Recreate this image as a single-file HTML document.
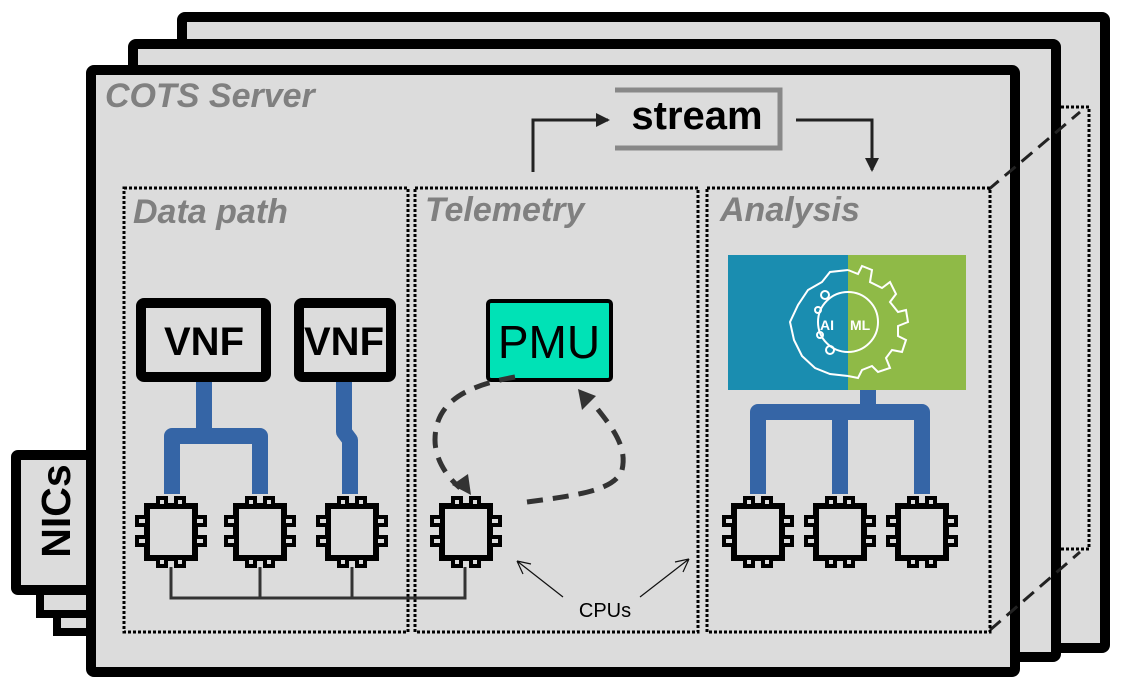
<!DOCTYPE html>
<html><head><meta charset="utf-8"><style>
html,body{margin:0;padding:0;background:#fff;}
svg{display:block;}
text{font-family:"Liberation Sans",sans-serif;}
</style></head><body>
<svg width="1122" height="689" viewBox="0 0 1122 689" xmlns="http://www.w3.org/2000/svg">
<defs>
<marker id="ah" markerWidth="14" markerHeight="14" refX="12" refY="7" orient="auto" markerUnits="userSpaceOnUse"><path d="M0,0 L14,7 L0,14 z" fill="#222"/></marker>
<g id="cpu">
 <rect x="-24" y="-26" width="48" height="52" fill="#dcdcdc" stroke="#000" stroke-width="6"/>
 <rect x="-13" y="-34" width="8" height="8" fill="#dcdcdc" stroke="#000" stroke-width="4"/>
 <rect x="5" y="-34" width="8" height="8" fill="#dcdcdc" stroke="#000" stroke-width="4"/>
 <rect x="-13" y="26" width="8" height="8" fill="#dcdcdc" stroke="#000" stroke-width="4"/>
 <rect x="5" y="26" width="8" height="8" fill="#dcdcdc" stroke="#000" stroke-width="4"/>
 <rect x="-34" y="-15" width="10" height="8" fill="#dcdcdc" stroke="#000" stroke-width="4"/>
 <rect x="-34" y="5" width="10" height="8" fill="#dcdcdc" stroke="#000" stroke-width="4"/>
 <rect x="24" y="-15" width="10" height="8" fill="#dcdcdc" stroke="#000" stroke-width="4"/>
 <rect x="24" y="5" width="10" height="8" fill="#dcdcdc" stroke="#000" stroke-width="4"/>
</g>
</defs>
<!-- back frame -->
<rect x="182" y="17" width="923" height="631" rx="3" fill="#dcdcdc" stroke="#000" stroke-width="10"/>
<rect x="1056" y="107" width="33" height="442" fill="none" stroke="#000" stroke-width="3" stroke-dasharray="3,2"/>
<!-- middle frame -->
<rect x="133" y="44" width="923" height="613" rx="3" fill="#dcdcdc" stroke="#000" stroke-width="10"/>
<!-- NICs tabs -->
<rect x="57" y="600" width="40" height="32" fill="#dcdcdc" stroke="#000" stroke-width="8"/>
<rect x="40" y="580" width="57" height="34" fill="#dcdcdc" stroke="#000" stroke-width="8"/>
<rect x="16" y="455" width="81" height="135" rx="2" fill="#dcdcdc" stroke="#000" stroke-width="10"/>
<text transform="translate(70,511) rotate(-90)" text-anchor="middle" font-size="41" font-weight="bold" fill="#000">NICs</text>
<!-- front frame -->
<rect x="91" y="70" width="924" height="602" rx="3" fill="#dcdcdc" stroke="#000" stroke-width="10"/>
<text x="105" y="107" font-size="34" font-weight="bold" font-style="italic" fill="#808080">COTS Server</text>
<!-- dashed perspective lines -->
<line x1="988" y1="190" x2="1080" y2="112" stroke="#222" stroke-width="3" stroke-dasharray="14,8"/>
<line x1="990" y1="630" x2="1080" y2="552" stroke="#222" stroke-width="3" stroke-dasharray="14,8"/>
<!-- sections -->
<g fill="none" stroke="#000" stroke-width="3" stroke-dasharray="3,2">
<rect x="124" y="188" width="284" height="444"/>
<rect x="415" y="188" width="283" height="444"/>
<rect x="707" y="188" width="283" height="444"/>
</g>
<g font-size="34" font-weight="bold" font-style="italic" fill="#808080">
<text x="133" y="223">Data path</text>
<text x="425" y="221">Telemetry</text>
<text x="720" y="221">Analysis</text>
</g>
<!-- stream -->
<path d="M615,90 H780 V148 H615" fill="none" stroke="#888" stroke-width="5"/>
<text x="697" y="129" text-anchor="middle" font-size="40" font-weight="bold" fill="#000">stream</text>
<path d="M533,172 V120 H608" fill="none" stroke="#222" stroke-width="3" marker-end="url(#ah)"/>
<path d="M796,120 H872 V170" fill="none" stroke="#222" stroke-width="3" marker-end="url(#ah)"/>
<!-- VNFs -->
<rect x="141" y="303" width="125" height="74" rx="3" fill="#dcdcdc" stroke="#000" stroke-width="10"/>
<text x="204" y="355" text-anchor="middle" font-size="40" font-weight="bold">VNF</text>
<rect x="299" y="303" width="92" height="74" rx="3" fill="#dcdcdc" stroke="#000" stroke-width="10"/>
<text x="344" y="355" text-anchor="middle" font-size="40" font-weight="bold">VNF</text>
<!-- blue lines -->
<g fill="none" stroke="#3565a6" stroke-width="16" stroke-linejoin="round">
<path d="M204,382 V436 M172,494 V436 H260 V494"/>
<path d="M344,382 V432 L350,440 V494"/>
<path d="M868,390 V412 M758,494 V412 H922 V494 M840,412 V494"/>
</g>
<!-- PMU -->
<rect x="488" y="301" width="123" height="79" rx="3" fill="#00e2b6" stroke="#000" stroke-width="4"/>
<text x="549" y="358" text-anchor="middle" font-size="46" fill="#000">PMU</text>
<!-- AI/ML -->
<rect x="728" y="255" width="120" height="135" fill="#1a8db0"/>
<rect x="848" y="255" width="118" height="135" fill="#8fba47"/>
<g fill="none" stroke="#fff" stroke-width="2">
<path d="M848,270 L830,272 L822,282 L808,290 L798,305 L790,322 L794,340 L802,356 L815,368 L830,374 L848,376"/>
<path d="M848,270 L858,274 L862,266 L872,270 L870,282 L882,288 L890,282 L896,294 L890,302 L898,312 L906,310 L908,322 L898,326 L898,336 L906,340 L902,352 L892,350 L886,358 L890,368 L878,372 L872,366 L862,370 L858,378 L848,376"/>
<circle cx="848" cy="322" r="30"/>
<circle cx="818" cy="310" r="3"/><circle cx="825" cy="295" r="4"/><circle cx="820" cy="335" r="3"/><circle cx="830" cy="350" r="4"/>
</g>
<text x="820" y="330" font-size="14" font-weight="bold" fill="#fff">AI</text>
<text x="850" y="330" font-size="14" font-weight="bold" fill="#fff">ML</text>
<!-- CPU bus -->
<path d="M171,567 V598 H465 V567 M260,567 V598 M352,567 V598" fill="none" stroke="#333" stroke-width="3"/>
<!-- CPUs -->
<use href="#cpu" x="171" y="532"/>
<use href="#cpu" x="260" y="532"/>
<use href="#cpu" x="352" y="532"/>
<use href="#cpu" x="466" y="532"/>
<use href="#cpu" x="758" y="532"/>
<use href="#cpu" x="840" y="532"/>
<use href="#cpu" x="922" y="532"/>
<!-- dashed loop -->
<g fill="none" stroke="#333" stroke-width="5" stroke-dasharray="16,10">
<path d="M515,377 C470,385 435,400 435,440 C435,460 448,478 460,488"/>
<path d="M527,502 C580,495 615,490 622,470 C628,445 610,425 592,402"/>
</g>
<path d="M452,485 L471,495 L468,474 z" fill="#333"/>
<path d="M578,389 L596,396 L582,410 z" fill="#333"/>
<!-- CPUs label -->
<text x="605" y="617" text-anchor="middle" font-size="20">CPUs</text>
<g stroke="#111" stroke-width="1.2" fill="none">
<path d="M563,597 L517,561 M517,561 L531,564 M517,561 L523,574"/>
<path d="M640,597 L689,559 M689,559 L675,562 M689,559 L683,572"/>
</g>
</svg>
</body></html>
